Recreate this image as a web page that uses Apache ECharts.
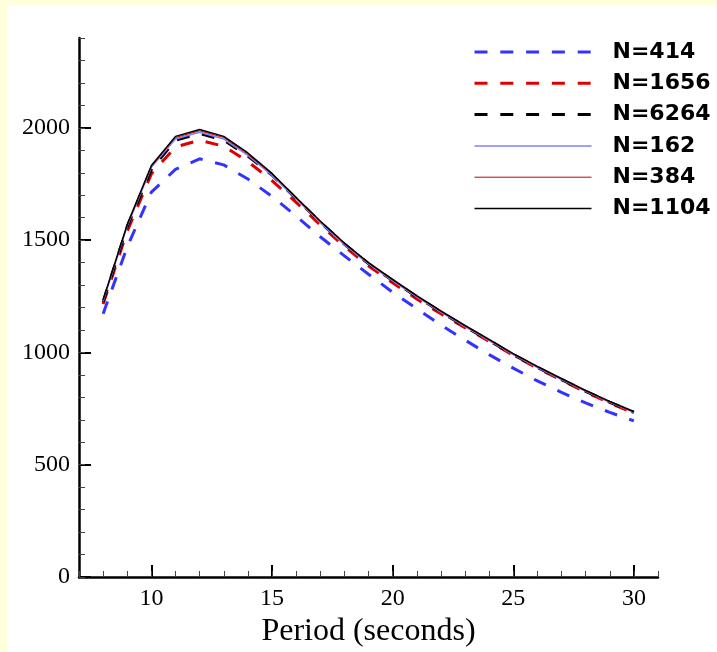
<!DOCTYPE html>
<html><head><meta charset="utf-8">
<script src="https://cdn.jsdelivr.net/npm/echarts@6/dist/echarts.min.js"></script>
<style>
html,body{margin:0;padding:0;background:#FFFFDC;width:717px;height:652px;overflow:hidden}
#c{position:absolute;left:7px;top:6px;width:710px;height:646px;background:#fff}
</style></head><body><div id="c"></div>
<script>
const periods = [8,9,10,11,12,13,14,15,16,17,18,19,20,21,22,23,24,25,26,27,28,29,30];
const n414  = [1172,1470,1714,1815,1862,1835,1772,1695,1607,1515,1430,1348,1268,1195,1122,1055,990,930,873,822,775,733,695];
const n1656 = [1215,1540,1795,1915,1945,1918,1850,1765,1668,1568,1472,1385,1310,1238,1172,1110,1050,987,930,876,823,775,730];
const n6264 = [1225,1560,1815,1945,1975,1945,1875,1790,1685,1580,1482,1395,1320,1248,1180,1115,1053,990,933,879,827,778,733];
const n162  = [1228,1563,1824,1950,1980,1950,1877,1788,1683,1578,1480,1394,1319,1247,1180,1115,1053,990,933,879,827,778,733];
const n384  = [1232,1567,1828,1957,1987,1957,1883,1793,1687,1582,1484,1397,1322,1250,1182,1117,1055,992,935,881,828,779,734];
const n1104 = [1235,1570,1832,1962,1993,1962,1888,1797,1690,1585,1487,1400,1325,1253,1185,1120,1058,995,938,884,831,782,737];
const seriesNames = ['N=414','N=1656','N=6264','N=162','N=384','N=1104'];
const xTickLabels = [10,15,20,25,30];
const yTickLabels = [0,500,1000,1500,2000];
const xTitle = 'Period (seconds)';

const styles = [
  {color:'#3333FF', width:3, type:[13,12.8]},
  {color:'#DD0000', width:3, type:[13,12.8]},
  {color:'#000000', width:3, type:[13,12.8]},
  {color:'#8080FF', width:1.5, type:'solid'},
  {color:'#CC0000', width:1, type:'solid'},
  {color:'#000000', width:1.5, type:'solid'}
];
const values = [n414,n1656,n6264,n162,n384,n1104];

const chart = echarts.init(document.getElementById('c'), null, {renderer:'canvas'});
const serif = 'Liberation Serif, Times New Roman, serif';
chart.setOption({
  animation:false,
  backgroundColor:'#ffffff',
  grid:{left:72, top:32, right:59, bottom:75, outerBoundsMode:'none', containLabel:false},
  legend:{
    orient:'vertical', left:466, top:35, padding:0,
    itemWidth:117, itemHeight:22, itemGap:9.3,
    itemStyle:{color:'rgba(0,0,0,0)', borderWidth:0, opacity:0},
    lineStyle:{width:'inherit', type:'inherit', color:'inherit'},
    textStyle:{fontFamily:'DejaVu Sans', fontWeight:'bold', fontSize:22, color:'#000', lineHeight:22, padding:[0,0,0,16]},
    data:seriesNames
  },
  xAxis:[{
    type:'value', min:7, max:31, position:'bottom',
    name:xTitle, nameLocation:'middle', nameGap:37,
    nameTextStyle:{fontFamily:serif, fontSize:32, color:'#000'},
    axisLine:{onZero:false, lineStyle:{color:'#000', width:2.5}},
    axisTick:{inside:true, length:12, customValues:xTickLabels, lineStyle:{color:'#000', width:2}},
    axisLabel:{customValues:xTickLabels, fontFamily:serif, fontSize:24, color:'#000', margin:10},
    splitLine:{show:false}
  },{
    type:'value', min:7, max:31, interval:1, position:'bottom',
    axisLine:{show:false, onZero:false},
    axisTick:{inside:true, length:6, lineStyle:{color:'#444', width:1}},
    axisLabel:{show:false}, splitLine:{show:false}
  }],
  yAxis:[{
    type:'value', min:0, max:2400, position:'left',
    axisLine:{show:true, onZero:false, lineStyle:{color:'#000', width:2.5}},
    axisTick:{show:true, inside:true, length:12, customValues:yTickLabels, lineStyle:{color:'#000', width:2}},
    axisLabel:{customValues:yTickLabels, formatter:v=>String(v), fontFamily:serif, fontSize:24, color:'#000', margin:9},
    splitLine:{show:false}
  },{
    type:'value', min:0, max:2400, interval:100, position:'left',
    axisLine:{show:false, onZero:false},
    axisTick:{show:true, inside:true, length:6, lineStyle:{color:'#444', width:1}},
    axisLabel:{show:false}, splitLine:{show:false}
  }],
  series: seriesNames.map((nm,i)=>({
    name:nm, type:'line', xAxisIndex:0, yAxisIndex:0,
    symbol:'none', showSymbol:false, smooth:false,
    lineStyle:{color:styles[i].color, width:styles[i].width, type:styles[i].type},
    itemStyle:{color:styles[i].color},
    data: periods.map((p,k)=>[p, values[i][k]])
  }))
});
</script></body></html>
